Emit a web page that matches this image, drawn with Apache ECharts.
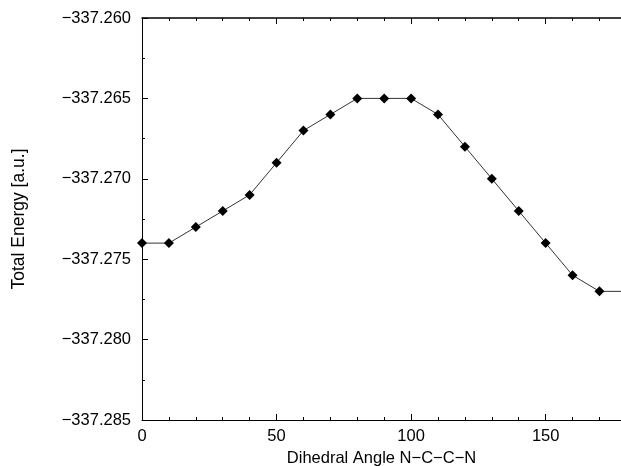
<!DOCTYPE html>
<html>
<head>
<meta charset="UTF-8">
<title></title>
<script src="https://cdn.jsdelivr.net/npm/echarts@6/dist/echarts.min.js"></script>
<style>html,body{margin:0;padding:0;background:#fff;}</style>
</head>
<body>
<div id="main" style="width:621px;height:466px;"></div>
<script type="text/javascript">
// dihedral angle (deg) and total energy (a.u.)
var angles = [0, 10, 20, 30, 40, 50, 60, 70, 80, 90, 100, 110, 120, 130, 140, 150, 160, 170, 180];
var energies = [-337.274, -337.274, -337.273, -337.272, -337.271, -337.269, -337.267, -337.266, -337.265,
                -337.265, -337.265, -337.266, -337.268, -337.270, -337.272, -337.274, -337.276, -337.277, -337.277];
var xTicks = [0, 50, 100, 150];
var yTicks = [-337.285, -337.280, -337.275, -337.270, -337.265, -337.260];

var pts = [];
for (var i = 0; i < angles.length; i++) {
    pts.push([angles[i], energies[i]]);
}

var font = '"Liberation Sans", Arial, sans-serif';
var axisLine = {show: true, lineStyle: {color: '#000', width: 1}};
// the picture is cut off a little before 180 on the right
var xMax = 178;

var option = {
    animation: false,
    grid: {left: 142, top: 18, bottom: 46, right: 0, outerBoundsMode: 'none', containLabel: false},
    xAxis: [{
        type: 'value',
        min: 0, max: xMax, interval: 50,
        name: 'Dihedral Angle N\u2212C\u2212C\u2212N',
        nameLocation: 'middle',
        nameGap: 22,
        nameTextStyle: {fontFamily: font, fontSize: 16.5, color: '#000'},
        axisLine: axisLine,
        axisTick: {inside: true, length: 6, lineStyle: {color: '#000'}},
        minorTick: {show: true, splitNumber: 5, length: 3, lineStyle: {color: '#000'}},
        splitLine: {show: false},
        axisLabel: {fontFamily: font, fontSize: 16.5, color: '#000', margin: 8, showMaxLabel: false,
            formatter: function (v) { return xTicks.indexOf(v) >= 0 ? String(v) : ''; }}
    }, {
        type: 'value', position: 'top',
        min: 0, max: xMax, interval: 50,
        axisLine: {show: true, lineStyle: {color: '#000', width: 1.5}},
        axisTick: {inside: true, length: 6, lineStyle: {color: '#000'}},
        minorTick: {show: true, splitNumber: 5, length: 3, lineStyle: {color: '#000'}},
        splitLine: {show: false},
        axisLabel: {show: false}
    }],
    yAxis: {
        type: 'value',
        min: yTicks[0], max: yTicks[yTicks.length - 1], interval: 0.005,
        name: 'Total Energy [a.u.]',
        nameLocation: 'middle',
        nameGap: 114,
        nameTextStyle: {fontFamily: font, fontSize: 17.5, color: '#000'},
        axisLine: axisLine,
        axisTick: {inside: true, length: 6, lineStyle: {color: '#000'}},
        minorTick: {show: true, splitNumber: 2, length: 3, lineStyle: {color: '#000'}},
        splitLine: {show: false},
        axisLabel: {fontFamily: font, fontSize: 16.5, color: '#000', margin: 11,
            formatter: function (v) { return '\u2212' + Math.abs(v).toFixed(3); }}
    },
    series: [{
        type: 'line',
        data: pts,
        clip: true,
        symbol: 'diamond',
        symbolSize: 10,
        itemStyle: {color: '#000'},
        lineStyle: {color: '#333', width: 1}
    }]
};

var myChart = echarts.init(document.getElementById('main'));
myChart.setOption(option);
</script>
</body>
</html>
